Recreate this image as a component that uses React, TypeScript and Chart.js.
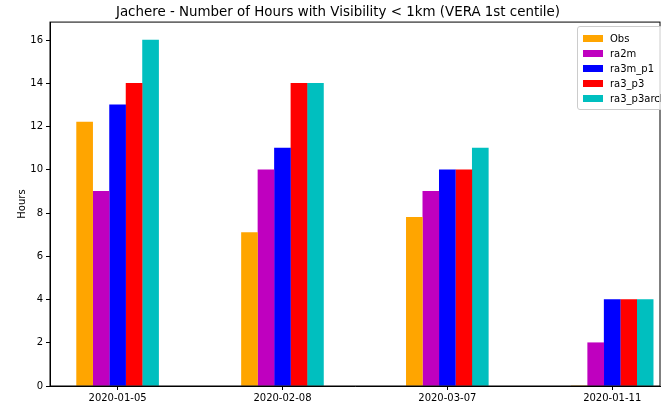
import React, { useEffect, useRef } from 'react';
import { Chart, registerables } from 'chart.js';

Chart.register(...registerables);

const dates = ['2020-01-05', '2020-02-08', '2020-03-07', '2020-01-11'];
const seriesNames = ['Obs', 'ra2m', 'ra3m_p1', 'ra3_p3', 'ra3_p3arcl'];
const seriesColors = ['#FFA500', '#BF00BF', '#0000FF', '#FF0000', '#00BFBF'];
const obs = [12.2, 7.1, 7.8, 0];
const ra2m = [9, 10, 9, 2];
const ra3mP1 = [13, 11, 10, 4];
const ra3P3 = [14, 14, 10, 4];
const ra3P3arcl = [16, 14, 11, 4];
const seriesValues = [obs, ra2m, ra3mP1, ra3P3, ra3P3arcl];

const frame = {
  id: 'frame',
  afterDraw(chart: Chart) {
    const { ctx, chartArea: a } = chart;
    ctx.save();
    ctx.strokeStyle = '#000';
    ctx.lineWidth = 1;
    ctx.strokeRect(a.left, a.top, a.right - a.left, a.bottom - a.top);
    ctx.restore();
  },
};

const App: React.FC = () => {
  const ref = useRef<HTMLCanvasElement>(null);

  useEffect(() => {
    const ctx = ref.current?.getContext('2d');
    if (!ctx) return;
    const font = { family: 'DejaVu Sans', size: 10 };
    const chart = new Chart(ctx, {
      type: 'bar',
      data: {
        datasets: seriesNames.map((name, k) => ({
          label: name,
          data: seriesValues[k].map((v, i) => ({ x: i + (k - 2) * 0.1, y: v })),
          backgroundColor: seriesColors[k],
          barThickness: 16,
          grouped: false,
        })),
      },
      options: {
        animation: false,
        responsive: false,
        layout: { padding: { left: 16, right: 1 } },
        plugins: {
          legend: { display: false },
          tooltip: { enabled: false },
          title: {
            display: true,
            text: 'Jachere - Number of Hours with Visibility < 1km (VERA 1st centile)',
            color: '#000',
            font: { family: 'DejaVu Sans', size: 13.4, weight: 'normal' },
            padding: { top: 4, bottom: 2 },
          },
        },
        scales: {
          x: {
            type: 'linear',
            offset: false,
            min: -0.41,
            max: 3.29,
            afterFit: (s: any) => { s.height = 18; },
            afterBuildTicks: (s: any) => { s.ticks = dates.map((_, i) => ({ value: i })); },
            ticks: { color: '#000', font, callback: (v: any) => dates[v] ?? '', maxRotation: 0, padding: 2 },
            grid: { drawOnChartArea: false, offset: false, tickLength: 4, color: '#000' },
            border: { color: '#000' },
          },
          y: {
            min: 0,
            max: 16.83,
            afterFit: (s: any) => { s.width = 34; },
            afterBuildTicks: (s: any) => { s.ticks = [0, 2, 4, 6, 8, 10, 12, 14, 16].map(v => ({ value: v })); },
            ticks: { color: '#000', font, padding: 3 },
            grid: { drawOnChartArea: false, tickLength: 4, color: '#000' },
            border: { color: '#000' },
            title: { display: true, text: 'Hours', color: '#000', font, padding: 0 },
          },
        },
      },
      plugins: [frame],
    });
    return () => chart.destroy();
  }, []);

  return (
    <div style={{ position: 'fixed', left: 0, top: 0, width: 661, height: 404, background: '#fff' }}>
      <canvas ref={ref} width={661} height={404} />
      <div style={{
        position: 'absolute', left: 577, top: 26, width: 90, padding: '4px 0 3px 5px',
        border: '1px solid #ccc', borderRadius: 3, background: 'rgba(255,255,255,0.8)',
        fontFamily: 'DejaVu Sans', fontSize: 10, lineHeight: '15px',
      }}>
        {seriesNames.map((n, k) => (
          <div key={n} style={{ display: 'flex', alignItems: 'center' }}>
            <span style={{ display: 'inline-block', width: 20, height: 7, background: seriesColors[k], marginRight: 7 }} />
            {n}
          </div>
        ))}
      </div>
    </div>
  );
};

export default App;
